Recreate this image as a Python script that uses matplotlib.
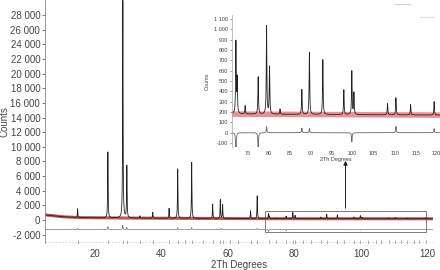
import matplotlib
matplotlib.use("Agg")
import matplotlib.pyplot as plt
import numpy as np
from matplotlib.ticker import FuncFormatter, MultipleLocator, FixedLocator
from matplotlib.lines import Line2D

plt.rcParams['font.family'] = ['Liberation Sans', 'DejaVu Sans']

# peak positions (2theta) and heights above background
peak_pos = [14.8, 23.9, 28.4, 29.6, 33.5, 37.4, 42.3, 44.9, 49.1, 55.4, 57.7, 58.4,
            66.8, 68.8, 72.2, 72.5, 74.4, 77.5, 79.5, 80.2, 82.7, 87.9, 89.7, 92.9,
            97.9, 99.8, 100.3, 108.3, 110.3, 113.8, 119.4]
peak_h = [1200, 9000, 29700, 7100, 300, 800, 1350, 6750, 7650, 1980, 2570, 1880,
          1070, 3120, 690, 330, 80, 360, 850, 455, 50, 240, 600, 530,
          240, 420, 210, 110, 165, 100, 130]

# background knots
bg_x = [5, 10, 15, 25, 40, 70, 121]
bg_y = [700, 450, 330, 280, 240, 180, 170]

# difference spikes (obs - calc)
diff_pos = [14.8, 23.9, 28.4, 29.6, 44.9, 49.1, 58.0, 68.8, 72.2, 77.5, 79.5,
            87.9, 89.7, 99.8, 110.3, 119.4]
diff_amp = [150, 400, 600, 300, 250, 250, 150, 150, -260, -180, 60,
            45, 40, -90, 60, 40]
diff_main_offset = -1300

# reflection markers
bragg_pos = [14.8, 23.9, 28.4, 29.6, 33.5, 37.4, 42.3, 44.9, 47.0, 49.1, 52.5,
             55.4, 57.7, 58.4, 60.5, 63.0, 66.8, 68.8, 72.2, 74.4, 77.5, 79.5,
             80.2, 82.7, 85.0, 87.9, 89.7, 92.9, 95.0, 97.9, 99.8, 102.0, 104.5,
             106.0, 108.3, 110.3, 112.0, 113.8, 116.0, 117.5, 119.4]
bragg_y = -2950

x = np.arange(5, 121.5, 0.01)
w = 0.08


def profile(pos, amp, width):
    y = np.zeros_like(x)
    for p, a in zip(pos, amp):
        y += a / (1 + ((x - p) / width) ** 2)
    return y


bg = np.interp(x, bg_x, bg_y)
obs = bg + profile(peak_pos, peak_h, w)
diff = profile(diff_pos, diff_amp, w)

fmt = FuncFormatter(lambda v, p: f"{v:,.0f}".replace(",", " "))
tcol = "#444444"

fig = plt.figure(figsize=(4.4, 2.7), dpi=100)
ax = fig.add_axes([45 / 440, 0.1, 387.5 / 440, 0.9])
ax.plot(x, bg, color="#b83a30", lw=2.2, alpha=0.85)
ax.plot(x, obs, color="#222222", lw=0.6)
ax.plot(x, diff + diff_main_offset, color="#777777", lw=0.5)
ax.plot(bragg_pos, [bragg_y] * len(bragg_pos), ls="none", marker="|",
        ms=2.5, color="#888888", mew=0.5)
ax.axhline(bragg_y, color="#bbbbbb", lw=0.4, ls=(0, (3, 3)))
ax.set_xlim(5, 121.5)
ax.set_ylim(-3140, 30050)
ax.yaxis.set_major_locator(FixedLocator(np.arange(-2000, 28001, 2000)))
ax.yaxis.set_major_formatter(fmt)
ax.xaxis.set_major_locator(MultipleLocator(20))
for s in ["top", "right", "bottom"]:
    ax.spines[s].set_visible(False)
ax.spines["left"].set_color("#888888")
ax.spines["left"].set_linewidth(0.6)
ax.tick_params(axis="y", labelsize=7, colors=tcol, length=2, width=0.5, pad=1.5)
ax.tick_params(axis="x", labelsize=7, colors=tcol, length=0, pad=4)
ax.set_xlabel("2Th Degrees", fontsize=7, color=tcol, labelpad=1)
ax.set_ylabel("Counts", fontsize=7, color=tcol)
ax.yaxis.set_label_coords(-0.092, 0.5)

# box around the zoomed region
ax.add_patch(plt.Rectangle((71.1, -1600), 119.5 - 71.1, 1230 + 1600,
                           fill=False, ec="#666666", lw=0.6))

# arrow to the inset
fig.add_artist(matplotlib.patches.FancyArrowPatch(
    (345.5 / 440, 1 - 211 / 270), (345.5 / 440, 1 - 158 / 270),
    transform=fig.transFigure, arrowstyle="-|>", mutation_scale=6,
    color="#222222", lw=0.7))

# inset
ins = fig.add_axes([231.7 / 440, 1 - 147 / 270, 208.3 / 440, 132 / 270])
ins.plot(x, bg, color="#e04848", lw=4, alpha=0.6)
ins.plot(x, obs, color="#222222", lw=0.6)
ins.plot(x, diff, color="#666666", lw=0.6)
ins.set_xlim(71.2, 120.8)
ins.set_ylim(-138, 1137)
ins.yaxis.set_major_locator(MultipleLocator(100))
ins.yaxis.set_major_formatter(fmt)
ins.xaxis.set_major_locator(MultipleLocator(5))
for s in ["top", "right", "bottom"]:
    ins.spines[s].set_visible(False)
ins.spines["left"].set_color("#aaaaaa")
ins.spines["left"].set_linewidth(0.5)
ins.tick_params(axis="y", labelsize=4, colors=tcol, length=1.5, width=0.4, pad=1)
ins.tick_params(axis="x", labelsize=4, colors=tcol, length=0, pad=3)
ins.set_xlabel("2Th Degrees", fontsize=4, color=tcol, labelpad=0.5)
ins.set_ylabel("Counts", fontsize=4, color=tcol, labelpad=3)
ins.patch.set_alpha(0)

# faint legend marks at top right
fig.add_artist(Line2D([395 / 440, 410 / 440], [1 - 4 / 270] * 2,
                      color="#cccccc", lw=0.8, transform=fig.transFigure))
fig.add_artist(Line2D([420 / 440, 434 / 440], [1 - 17 / 270] * 2,
                      color="#dddddd", lw=0.8, transform=fig.transFigure))

fig.savefig("out.png", dpi=100)
